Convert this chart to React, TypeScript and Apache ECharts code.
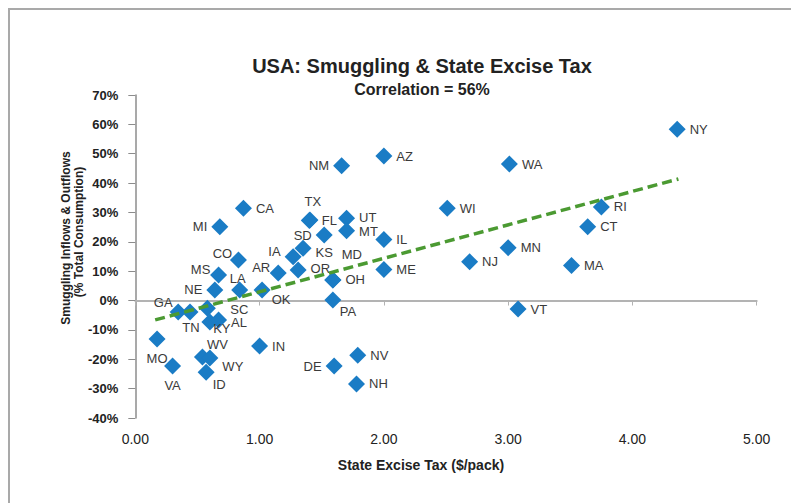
import React, { useEffect, useRef } from 'react';
import * as echarts from 'echarts';

// ---- Data ----
const states = [
  'NY', 'WA', 'AZ', 'NM', 'WI', 'RI', 'CT', 'CA', 'MI', 'TX',
  'FL', 'UT', 'MT', 'SD', 'IL', 'KS', 'IA', 'OR', 'MD', 'OH',
  'PA', 'ME', 'NJ', 'MN', 'MA', 'VT', 'CO', 'MS', 'LA', 'NE',
  'SC', 'OK', 'AR', 'GA', 'TN', 'KY', 'AL', 'WV', 'WY', 'ID',
  'MO', 'VA', 'IN', 'DE', 'NV', 'NH',
];
// State excise tax ($/pack)
const exciseTax = [
  4.36, 3.01, 2.0, 1.66, 2.51, 3.75, 3.64, 0.87, 0.68, 1.405,
  1.40, 1.70, 1.70, 1.52, 2.0, 1.35, 1.27, 1.31, 1.59, 1.59,
  1.59, 2.0, 2.69, 3.0, 3.51, 3.08, 0.83, 0.67, 0.84, 0.64,
  0.58, 1.02, 1.15, 0.345, 0.44, 0.60, 0.67, 0.54, 0.60, 0.57,
  0.175, 0.30, 1.0, 1.60, 1.79, 1.78,
];
// Smuggling inflows (-) & outflows (+), % of total consumption
const smuggling = [
  58.3, 46.5, 49.2, 45.9, 31.4, 31.9, 25.1, 31.4, 25.1, 27.4,
  27.3, 28.0, 23.8, 22.3, 20.8, 17.8, 14.9, 10.4, 7.0, 7.0,
  0.2, 10.6, 13.2, 18.0, 11.9, -2.9, 13.8, 8.7, 3.6, 3.6,
  -2.6, 3.6, 9.4, -3.9, -3.9, -7.3, -6.6, -19.2, -19.6, -24.4,
  -13.1, -22.3, -15.5, -22.3, -18.6, -28.4,
];
// Where each state's label sits relative to its marker
const labelSide = [
  'right', 'right', 'right', 'left', 'right', 'right', 'right', 'right', 'left', 'top',
  'right', 'right', 'right', 'left', 'right', 'right', 'left', 'right', 'inside', 'right',
  'inside', 'right', 'right', 'right', 'right', 'right', 'inside', 'inside', 'inside', 'left',
  'inside', 'inside', 'inside', 'inside', 'inside', 'inside', 'right', 'inside', 'right', 'inside',
  'bottom', 'bottom', 'right', 'left', 'right', 'right',
];
const labelShift = [
  [0, 0], [0, 0], [0, 0], [0, 0], [0, 0], [0, 0], [0, 0], [0, 0], [0, 0], [3, 0],
  [0, 0], [0, -1], [0, 1], [0, 0], [0, 0], [0, 4], [0, -5], [0, -2], [19, -25], [0, 0],
  [15, 12], [0, 0], [0, 0], [0, 0], [0, 0], [0, 0], [-16, -7], [-18, -5], [-2, -11], [0, 0],
  [32, 1], [19, 10], [-17, -5], [-15, -9], [1, 16], [12, 7], [0, 3], [15, -12], [0, 8], [13, 12],
  [0, 0], [0, 0], [0, 0], [0, 0], [0, 0], [0, 0],
];
// Trend line end points
const trendTax = [0.16, 4.37];
const trendSmuggling = [-6.6, 41.4];

const TITLE = 'USA: Smuggling & State Excise Tax';
const SUBTITLE = 'Correlation = 56%';
const X_NAME = 'State Excise Tax ($/pack)';
const Y_NAME_1 = 'Smuggling Inflows & Outflows';
const Y_NAME_2 = '(% Total Consumption)';

const SANS = "'Liberation Sans', Arial, Helvetica, sans-serif";

export default function App() {
  const ref = useRef<HTMLDivElement>(null);

  useEffect(() => {
    if (!ref.current) return;
    const chart = echarts.init(ref.current, null, { renderer: 'svg' });

    const points = states.map((s, i) => ({
      name: s,
      value: [exciseTax[i], smuggling[i]],
      label: { position: labelSide[i], offset: labelShift[i] },
    }));

    const txt = (text: string, x: number, y: number, size: number, weight = 'bold', rotation = 0) => ({
      type: 'text',
      x,
      y,
      rotation,
      silent: true,
      style: {
        text,
        fill: '#222',
        fontSize: size,
        fontWeight: weight,
        fontFamily: SANS,
        textAlign: 'center',
        textVerticalAlign: 'middle',
        align: 'center',
        verticalAlign: 'middle',
      },
    });

    chart.setOption({
      animation: false,
      backgroundColor: '#ffffff',
      grid: { left: 135.3, right: 34.3, top: 95, bottom: 85, containLabel: false },
      xAxis: [
        {
          type: 'value',
          min: 0,
          max: 5,
          interval: 1,
          position: 'bottom',
          axisLine: { show: false, onZero: false },
          axisTick: { show: false },
          splitLine: { show: false },
          axisLabel: {
            formatter: (v: number) => v.toFixed(2),
            margin: 14,
            fontSize: 14,
            color: '#222',
            fontFamily: SANS,
          },
        },
        {
          type: 'value',
          min: 0,
          max: 5,
          interval: 1,
          position: 'bottom',
          axisLine: { show: true, onZero: true, lineStyle: { color: '#b3b3b3', width: 2 } },
          axisTick: { show: true, length: 5, lineStyle: { color: '#b3b3b3', width: 1 } },
          axisLabel: { show: false },
          splitLine: { show: false },
        },
      ],
      yAxis: {
        type: 'value',
        min: -40,
        max: 70,
        interval: 10,
        axisLine: { show: true, onZero: false, lineStyle: { color: '#8c8c8c', width: 1.5 } },
        axisTick: { show: true, length: 7, lineStyle: { color: '#8c8c8c', width: 1 } },
        splitLine: { show: false },
        axisLabel: {
          formatter: '{value}%',
          margin: 17,
          fontSize: 13,
          fontWeight: 'bold',
          color: '#222',
          fontFamily: SANS,
        },
      },
      series: [
        {
          type: 'scatter',
          xAxisIndex: 0,
          yAxisIndex: 0,
          symbol: 'diamond',
          symbolSize: 17,
          itemStyle: { color: '#1a7cc5', opacity: 1 },
          label: {
            show: true,
            formatter: '{b}',
            fontSize: 13,
            lineHeight: 13,
            color: '#3a3a3a',
            fontFamily: SANS,
            distance: 4,
          },
          data: points,
          z: 2,
        },
        {
          type: 'line',
          xAxisIndex: 0,
          yAxisIndex: 0,
          data: trendTax.map((x, i) => [x, trendSmuggling[i]]),
          symbol: 'none',
          silent: true,
          lineStyle: { color: '#4b9a32', width: 3.5, type: [10, 5] },
          z: 3,
        },
      ],
      graphic: [
        {
          type: 'rect',
          silent: true,
          shape: { x: 9, y: 9, width: 830, height: 540 },
          style: { fill: 'none', stroke: '#a9a9a9', lineWidth: 2 },
        },
        txt(TITLE, 422, 66, 20),
        txt(SUBTITLE, 422, 89, 16),
        txt(X_NAME, 421, 465, 14),
        txt(Y_NAME_1, 66, 238, 12, 'bold', Math.PI / 2),
        txt(Y_NAME_2, 79, 232, 12, 'bold', Math.PI / 2),
      ],
    });

    return () => chart.dispose();
  }, []);

  return (
    <div
      ref={ref}
      style={{ position: 'absolute', left: 0, top: 0, width: 791, height: 503 }}
    />
  );
}
